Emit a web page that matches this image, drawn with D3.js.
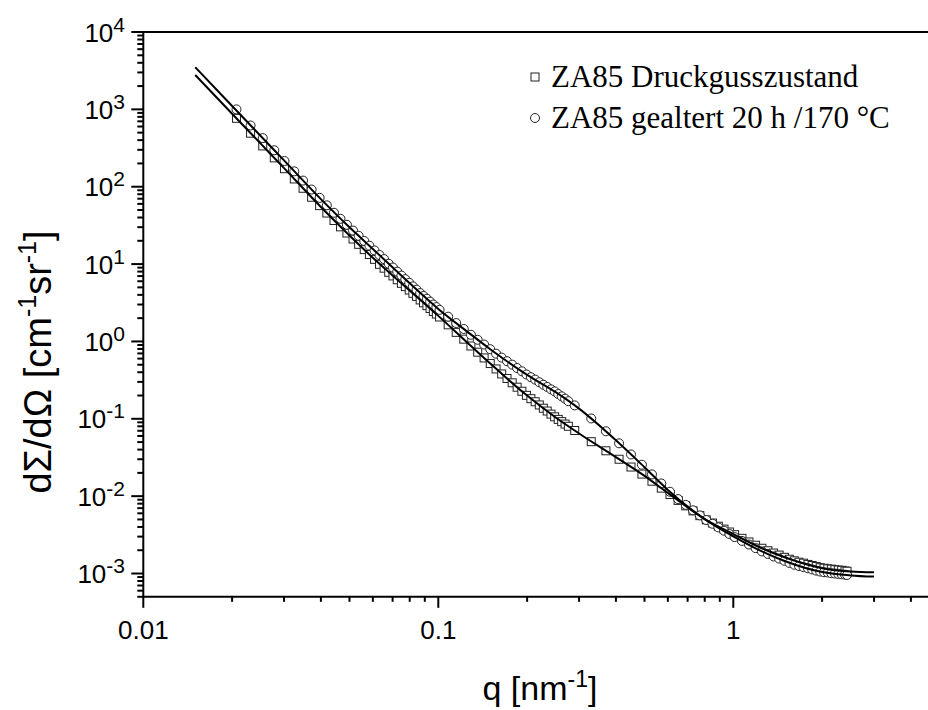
<!DOCTYPE html>
<html>
<head>
<meta charset="utf-8">
<script src="https://cdn.jsdelivr.net/npm/d3@7"></script>
<style>
  html, body { margin: 0; padding: 0; background: #fff; }
  svg { display: block; }
</style>
</head>
<body>
<div id="chart"></div>
<script>
// measured q values [nm^-1] (same for both samples)
const qData = [
  0.0207, 0.0231, 0.0254, 0.0278, 0.0301, 0.0325, 0.0348, 0.0372, 0.0396, 0.0419,
  0.0443, 0.0466, 0.049, 0.0514, 0.0537, 0.0561, 0.0584, 0.0608, 0.0632, 0.0655,
  0.0679, 0.0702, 0.0726, 0.075, 0.0773, 0.0797, 0.082, 0.0844, 0.0868, 0.0891,
  0.0915, 0.0938, 0.0962, 0.0985, 0.101, 0.108, 0.115, 0.122, 0.129, 0.136,
  0.143, 0.15, 0.157, 0.164, 0.171, 0.178, 0.185, 0.192, 0.199, 0.206,
  0.213, 0.22, 0.227, 0.234, 0.241, 0.248, 0.255, 0.262, 0.269, 0.276,
  0.29, 0.33, 0.37, 0.41, 0.45, 0.49, 0.53, 0.57, 0.61, 0.65,
  0.69, 0.73, 0.77, 0.81, 0.85, 0.89, 0.93, 0.97, 1.01, 1.07,
  1.13, 1.19, 1.25, 1.31, 1.37, 1.43, 1.49, 1.55, 1.61, 1.67,
  1.73, 1.79, 1.85, 1.91, 1.97, 2.03, 2.09, 2.15, 2.21, 2.27,
  2.33, 2.39, 2.43
];

// ZA85 Druckgusszustand (squares)
const iCast = [
  766, 492, 337, 236, 171, 126, 95.5, 73.1, 57.0, 45.7,
  36.6, 30.3, 25.2, 21.1, 18.0, 15.4, 13.3, 11.5, 9.93, 8.85,
  7.83, 7.03, 6.27, 5.64, 5.11, 4.62, 4.19, 3.82, 3.44, 3.16,
  2.90, 2.66, 2.44, 2.26, 2.07, 1.64, 1.31, 1.07, 0.873, 0.726,
  0.612, 0.518, 0.441, 0.380, 0.332, 0.292, 0.256, 0.227, 0.201, 0.182,
  0.166, 0.151, 0.137, 0.126, 0.115, 0.106, 0.0982, 0.0919, 0.0855, 0.0800,
  0.0706, 0.0506, 0.0386, 0.0300, 0.0238, 0.0193, 0.0156, 0.0127, 0.0105, 0.00881,
  0.00750, 0.00646, 0.00560, 0.00494, 0.00449, 0.00409, 0.00375, 0.00344, 0.00318, 0.00285,
  0.00256, 0.00232, 0.00212, 0.00197, 0.00184, 0.00173, 0.00162, 0.00153, 0.00146, 0.00140,
  0.00136, 0.00131, 0.00127, 0.00123, 0.00119, 0.00117, 0.00115, 0.00114, 0.00112, 0.00111,
  0.00110, 0.00108, 0.00107
];

// ZA85 gealtert 20 h / 170 °C (circles)
const iAged = [
  1000, 619, 425, 296, 215, 158, 120, 92.0, 71.8, 57.5,
  46.1, 38.5, 32.2, 27.1, 23.2, 19.9, 17.3, 15.0, 13.1, 11.6,
  10.1, 9.02, 7.98, 7.10, 6.38, 5.73, 5.15, 4.67, 4.22, 3.87,
  3.56, 3.27, 3.00, 2.78, 2.56, 2.09, 1.73, 1.45, 1.22, 1.05,
  0.912, 0.794, 0.695, 0.618, 0.555, 0.501, 0.453, 0.411, 0.374, 0.345,
  0.321, 0.297, 0.276, 0.258, 0.240, 0.226, 0.209, 0.195, 0.182, 0.169,
  0.149, 0.101, 0.0690, 0.0482, 0.0346, 0.0255, 0.0191, 0.0146, 0.0114, 0.00917,
  0.00771, 0.00656, 0.00564, 0.00492, 0.00440, 0.00395, 0.00358, 0.00324, 0.00296, 0.00264,
  0.00237, 0.00213, 0.00193, 0.00179, 0.00166, 0.00156, 0.00146, 0.00137, 0.00130, 0.00125,
  0.00121, 0.00117, 0.00113, 0.00109, 0.00106, 0.00104, 0.00103, 0.00101, 0.00100, 0.000989,
  0.000977, 0.000966, 0.000957
];

// model fits
const qFit = [0.015, 0.02, 0.025, 0.03, 0.04, 0.05, 0.06, 0.08, 0.1, 0.125, 0.15, 0.2,
  0.25, 0.3, 0.4, 0.5, 0.6, 0.8, 1.0, 1.25, 1.5, 2.0, 2.5, 3.0];
const fitCast = [2780, 879, 360, 174, 54.7, 23.4, 12.05, 4.55, 2.14, 0.977, 0.518, 0.1995,
  0.1038, 0.0646, 0.032, 0.01832, 0.01101, 0.00506, 0.00324, 0.00212, 0.00161, 0.001172, 0.00106, 0.001035];
const fitAged = [3500, 1107, 453, 219, 69.2, 29.9, 15.7, 5.64, 2.63, 1.35, 0.794, 0.370,
  0.221, 0.1355, 0.0528, 0.02366, 0.01205, 0.00505, 0.00302, 0.00193, 0.00144, 0.001045, 0.000946, 0.000912];

const yTickExp = [-3, -2, -1, 0, 1, 2, 3, 4];
const xTickLabels = [[0.01, '0.01'], [0.1, '0.1'], [1, '1']];
const legendLabels = ['ZA85 Druckgusszustand', 'ZA85 gealtert 20 h /170 °C'];

const W = 928, H = 710;
const svg = d3.select('#chart').append('svg').attr('width', W).attr('height', H);
svg.append('rect').attr('width', W).attr('height', H).attr('fill', '#fff');

const plotLeft = 143.3, plotTop = 32;
const x = d3.scaleLog().domain([0.01, 5]).range([plotLeft, plotLeft + 295 * Math.log10(500)]);
const y = d3.scaleLog().domain([5e-4, 1e4]).range([plotTop + 77.36 * Math.log10(1e4 / 5e-4), plotTop]);
const plotBottom = y(5e-4);

const sans = 'Arial, "Liberation Sans", Helvetica, sans-serif';
const serif = '"Times New Roman", "Liberation Serif", serif';

// minor / major ticks
const xMinor = [];
[0.01, 0.1, 1].forEach((d) => { for (let k = 2; k <= 9; k++) if (d * k <= 5) xMinor.push(d * k); });
const yMinor = [];
for (let e = -4; e <= 3; e++) for (let k = 2; k <= 9; k++) {
  const v = k * Math.pow(10, e);
  if (v >= 5e-4 && v <= 1e4) yMinor.push(v);
}

const axes = svg.append('g').attr('stroke', '#000').attr('stroke-width', 2);
axes.selectAll('.xmin').data(xMinor).join('line')
  .attr('x1', (d) => x(d)).attr('x2', (d) => x(d))
  .attr('y1', plotBottom).attr('y2', plotBottom + 5);
axes.selectAll('.xmaj').data(xTickLabels).join('line')
  .attr('x1', (d) => x(d[0])).attr('x2', (d) => x(d[0]))
  .attr('y1', plotBottom).attr('y2', plotBottom + 11);
axes.selectAll('.ymin').data(yMinor).join('line')
  .attr('y1', (d) => y(d)).attr('y2', (d) => y(d))
  .attr('x1', plotLeft).attr('x2', plotLeft - 6);
axes.selectAll('.ymaj').data(yTickExp).join('line')
  .attr('y1', (d) => y(Math.pow(10, d))).attr('y2', (d) => y(Math.pow(10, d)))
  .attr('x1', plotLeft).attr('x2', plotLeft - 12);
axes.append('line').attr('x1', plotLeft).attr('x2', plotLeft).attr('y1', plotTop - 1).attr('y2', plotBottom + 1);
axes.append('line').attr('x1', plotLeft - 1).attr('x2', W + 5).attr('y1', plotBottom).attr('y2', plotBottom);
axes.append('line').attr('x1', plotLeft - 1).attr('x2', W + 5).attr('y1', plotTop).attr('y2', plotTop);

// tick labels
svg.append('g').selectAll('text').data(xTickLabels).join('text')
  .attr('x', (d) => x(d[0])).attr('y', 639)
  .attr('text-anchor', 'middle')
  .attr('font-family', sans).attr('font-size', 26)
  .text((d) => d[1]);

const yl = svg.append('g').selectAll('text').data(yTickExp).join('text')
  .attr('x', 125).attr('y', (d) => y(Math.pow(10, d)) + 9.5)
  .attr('text-anchor', 'end')
  .attr('font-family', sans).attr('font-size', 26);
yl.append('tspan').text('10');
yl.append('tspan').attr('dy', -10).attr('font-size', 21).text((d) => d);

// axis titles
const xt = svg.append('text').attr('x', 540).attr('y', 700)
  .attr('text-anchor', 'middle').attr('font-family', sans).attr('font-size', 34);
xt.append('tspan').text('q [nm');
xt.append('tspan').attr('dy', -13).attr('font-size', 23).text('-1');
xt.append('tspan').attr('dy', 13).text(']');

const yt = svg.append('text')
  .attr('transform', 'translate(51,362) rotate(-90)')
  .attr('text-anchor', 'middle').attr('font-family', sans).attr('font-size', 38);
yt.append('tspan').text('dΣ/dΩ [cm');
yt.append('tspan').attr('dy', -15).attr('font-size', 25).text('-1');
yt.append('tspan').attr('dy', 15).text('sr');
yt.append('tspan').attr('dy', -15).attr('font-size', 25).text('-1');
yt.append('tspan').attr('dy', 15).text(']');

// data markers
const castPts = qData.map((q, i) => [q, iCast[i]]);
const agedPts = qData.map((q, i) => [q, iAged[i]]);
const marks = svg.append('g').attr('stroke', '#222').attr('stroke-width', 1).attr('fill', '#fff');
marks.selectAll('.sq').data(castPts).join('rect')
  .attr('x', (d) => x(d[0]) - 4).attr('y', (d) => y(d[1]) - 4)
  .attr('width', 8).attr('height', 8);
marks.selectAll('.ci').data(agedPts).join('circle')
  .attr('cx', (d) => x(d[0])).attr('cy', (d) => y(d[1])).attr('r', 4.5);

// fit lines
const line = d3.line().x((d) => x(d[0])).y((d) => y(d[1])).curve(d3.curveMonotoneX);
[fitCast, fitAged].forEach((f) => {
  svg.append('path').datum(qFit.map((q, i) => [q, f[i]]))
    .attr('d', line).attr('fill', 'none').attr('stroke', '#000').attr('stroke-width', 2);
});

// legend
const lg = svg.append('g');
legendLabels.forEach((t, i) => {
  const yy = 87 + i * 41;
  lg.append('text').attr('x', 551).attr('y', yy)
    .attr('font-family', serif).attr('font-size', 31).text(t);
});
lg.append('rect').attr('x', 531).attr('y', 87 - 14).attr('width', 8).attr('height', 8)
  .attr('fill', '#fff').attr('stroke', '#222').attr('stroke-width', 1);
lg.append('circle').attr('cx', 535).attr('cy', 128 - 10).attr('r', 4.5)
  .attr('fill', '#fff').attr('stroke', '#222').attr('stroke-width', 1);
</script>
</body>
</html>
